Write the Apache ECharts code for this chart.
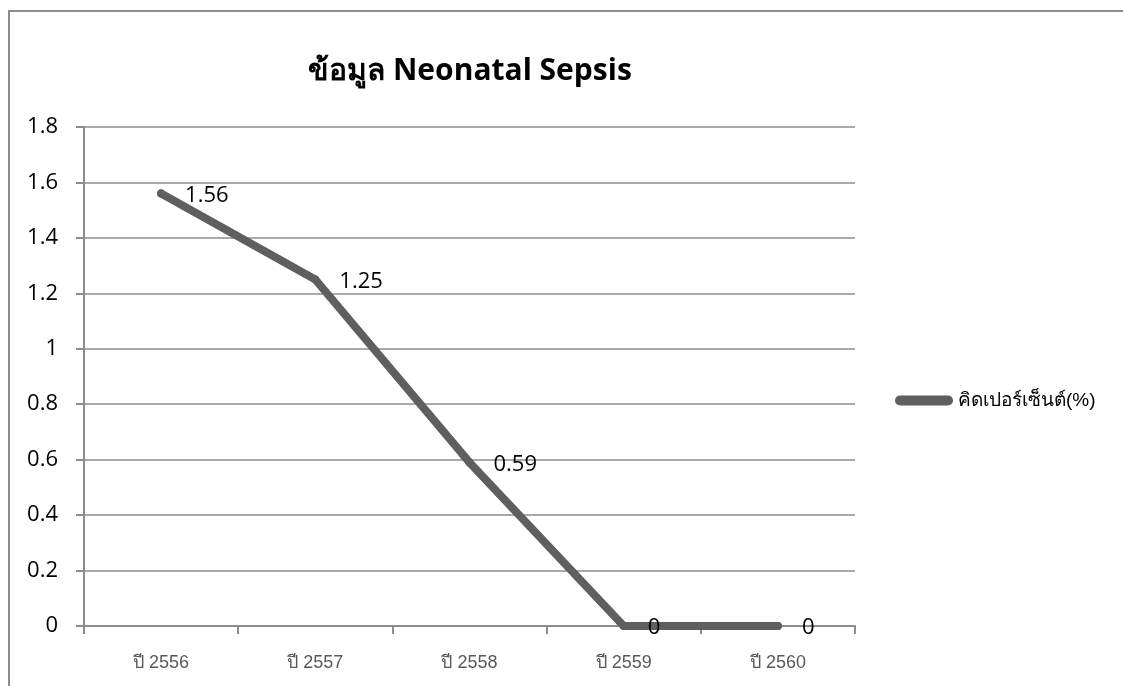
<!DOCTYPE html>
<html>
<head>
<meta charset="utf-8">
<script src="https://cdn.jsdelivr.net/npm/echarts@6.0.0/dist/echarts.min.js"></script>
<style>
  html, body { margin: 0; padding: 0; background: #fff; }
  #chart { width: 1123px; height: 686px; }
</style>
</head>
<body>
<div id="chart"></div>
<script>
// chart data
const years = ['ปี 2556', 'ปี 2557', 'ปี 2558', 'ปี 2559', 'ปี 2560'];
const percent = [1.56, 1.25, 0.59, 0, 0];
const seriesName = 'คิดเปอร์เซ็นต์(%)';
const titleText = 'ข้อมูล Neonatal Sepsis';

const chart = echarts.init(document.getElementById('chart'));

chart.setOption({
  backgroundColor: '#fff',
  animation: false,
  title: {
    text: titleText,
    left: 465,
    top: 51,
    textAlign: 'center',
    textStyle: { fontFamily: 'Open Sans, sans-serif', fontSize: 30, fontWeight: 'bold', color: '#000' }
  },
  // outer chart frame, only top and left edges are inside the window
  graphic: [{
    type: 'polyline',
    shape: { points: [[9, 700], [9, 11], [1140, 11]] },
    style: { fill: null, stroke: '#8c8c8c', lineWidth: 2 },
    silent: true
  }],
  legend: {
    orient: 'vertical',
    left: 890,
    top: 386,
    itemWidth: 58,
    itemHeight: 10,
    icon: 'path://M5,0 L53,0 A5,5 0 0 1 53,10 L5,10 A5,5 0 0 1 5,0 Z',
    textStyle: { fontFamily: 'Liberation Sans, Arial, sans-serif', fontSize: 19, color: '#000' },
    data: [seriesName]
  },
  grid: { left: 84, right: 268, top: 127, bottom: 60 },
  xAxis: {
    type: 'category',
    data: years,
    boundaryGap: true,
    axisLine: { lineStyle: { color: '#8c8c8c', width: 2 } },
    axisTick: { show: true, length: 8, lineStyle: { color: '#8c8c8c', width: 2 } },
    axisLabel: { margin: 28, fontFamily: 'Liberation Sans, Arial, sans-serif', fontSize: 18, color: '#595959' }
  },
  yAxis: {
    type: 'value',
    min: 0, max: 1.8, interval: 0.2,
    axisLine: { show: true, lineStyle: { color: '#8c8c8c', width: 2 } },
    axisTick: { show: true, length: 8, lineStyle: { color: '#8c8c8c', width: 2 } },
    axisLabel: { margin: 26, fontFamily: 'Open Sans, sans-serif', fontSize: 22, color: '#000',
      formatter: v => String(Math.round(v * 10) / 10) },
    splitLine: { lineStyle: { color: '#8c8c8c', width: 1.5 } }
  },
  series: [{
    name: seriesName,
    type: 'line',
    data: percent,
    symbol: 'circle',
    symbolSize: 8,
    itemStyle: { color: '#5f5f5f' },
    lineStyle: { color: '#5f5f5f', width: 8, cap: 'round', join: 'round' },
    label: {
      show: true,
      position: 'right',
      distance: 20,
      offset: [0, 2],
      fontFamily: 'Open Sans, sans-serif',
      fontSize: 22,
      color: '#000'
    }
  }]
});
</script>
</body>
</html>
